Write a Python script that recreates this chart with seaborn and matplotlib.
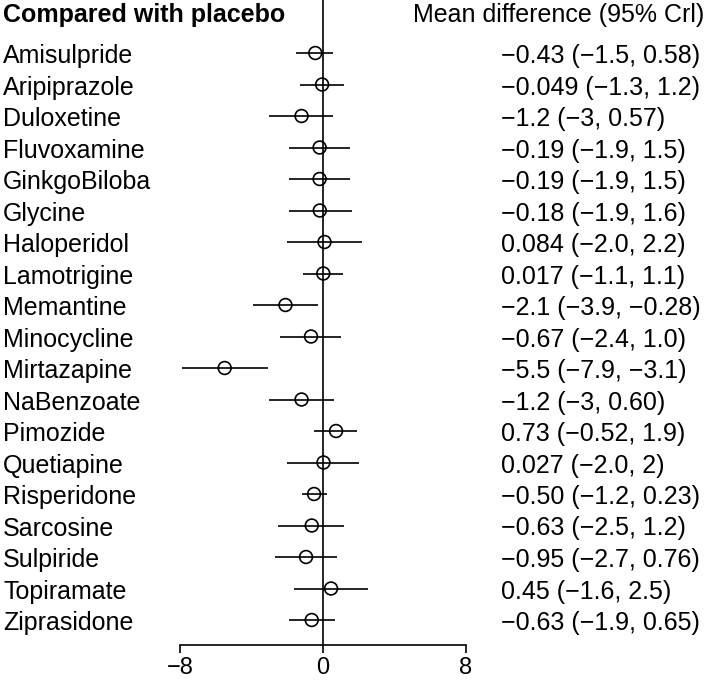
import pandas as pd
import seaborn as sns
import matplotlib.pyplot as plt
import matplotlib.transforms as mtransforms

drugs = ['Amisulpride', 'Aripiprazole', 'Duloxetine', 'Fluvoxamine', 'GinkgoBiloba',
         'Glycine', 'Haloperidol', 'Lamotrigine', 'Memantine', 'Minocycline',
         'Mirtazapine', 'NaBenzoate', 'Pimozide', 'Quetiapine', 'Risperidone',
         'Sarcosine', 'Sulpiride', 'Topiramate', 'Ziprasidone']
mean = [-0.43, -0.049, -1.2, -0.19, -0.19, -0.18, 0.084, 0.017, -2.1, -0.67,
        -5.5, -1.2, 0.73, 0.027, -0.50, -0.63, -0.95, 0.45, -0.63]
lower = [-1.5, -1.3, -3, -1.9, -1.9, -1.9, -2.0, -1.1, -3.9, -2.4,
         -7.9, -3, -0.52, -2.0, -1.2, -2.5, -2.7, -1.6, -1.9]
upper = [0.58, 1.2, 0.57, 1.5, 1.5, 1.6, 2.2, 1.1, -0.28, 1.0,
         -3.1, 0.60, 1.9, 2, 0.23, 1.2, 0.76, 2.5, 0.65]
labels = ['−0.43 (−1.5, 0.58)', '−0.049 (−1.3, 1.2)', '−1.2 (−3, 0.57)',
          '−0.19 (−1.9, 1.5)', '−0.19 (−1.9, 1.5)', '−0.18 (−1.9, 1.6)',
          '0.084 (−2.0, 2.2)', '0.017 (−1.1, 1.1)', '−2.1 (−3.9, −0.28)',
          '−0.67 (−2.4, 1.0)', '−5.5 (−7.9, −3.1)', '−1.2 (−3, 0.60)',
          '0.73 (−0.52, 1.9)', '0.027 (−2.0, 2)', '−0.50 (−1.2, 0.23)',
          '−0.63 (−2.5, 1.2)', '−0.95 (−2.7, 0.76)', '0.45 (−1.6, 2.5)',
          '−0.63 (−1.9, 0.65)']
ticks = [-8, 0, 8]

df = pd.DataFrame({'drug': drugs, 'mean': mean, 'lower': lower, 'upper': upper})
df['row'] = range(len(df))

sns.set_theme(style='white')
plt.rcParams['font.family'] = ['Liberation Sans', 'DejaVu Sans']
plt.rcParams['text.color'] = 'black'
plt.rcParams['xtick.color'] = 'black'
plt.rcParams['xtick.labelcolor'] = 'black'

W, H = 707, 682
fig = plt.figure(figsize=(W / 100, H / 100), dpi=100)
# plot area in pixels: x -8..8 -> 180..466, bottom axis line at y=645
ax = fig.add_axes([180 / W, (H - 645) / H, (466 - 180) / W, 645 / H])

row0, step = 53, 31.5
ax.set_ylim((645 - row0) / step, -row0 / step)
ax.set_xlim(-8, 8)

ax.axvline(0, color='black', lw=1.2)
ax.hlines(df['row'], df['lower'], df['upper'], color='black', lw=1.2)
sns.scatterplot(data=df, x='mean', y='row', ax=ax, marker='o', s=85,
                facecolor='none', edgecolor='black', linewidth=1.2, zorder=3)

for s in ['top', 'right', 'left']:
    ax.spines[s].set_visible(False)
ax.spines['bottom'].set_linewidth(1.2)
ax.spines['bottom'].set_color('black')
ax.set_xticks(ticks)
ax.set_yticks([])
ax.tick_params(axis='x', direction='out', length=6, width=1.2, color='black',
               labelcolor='black', labelsize=17, pad=3, bottom=True)
ax.set_xlabel('')
ax.set_ylabel('')

tr = mtransforms.blended_transform_factory(fig.transFigure, ax.transData)
fs = 18
base = 10 / step  # baseline offset below the row centre
head_y = (22 - row0) / step
fig.text(3 / W, head_y, 'Compared with placebo', transform=tr, fontsize=fs,
         fontweight='bold', va='baseline', ha='left')
fig.text(413 / W, head_y, 'Mean difference (95% Crl)', transform=tr, fontsize=fs,
         va='baseline', ha='left')
for i, (d, lab) in enumerate(zip(drugs, labels)):
    fig.text(3 / W, i + base, d, transform=tr, fontsize=fs, va='baseline', ha='left')
    fig.text(501 / W, i + base, lab, transform=tr, fontsize=fs, va='baseline', ha='left')

fig.savefig('out.png', dpi=100)
